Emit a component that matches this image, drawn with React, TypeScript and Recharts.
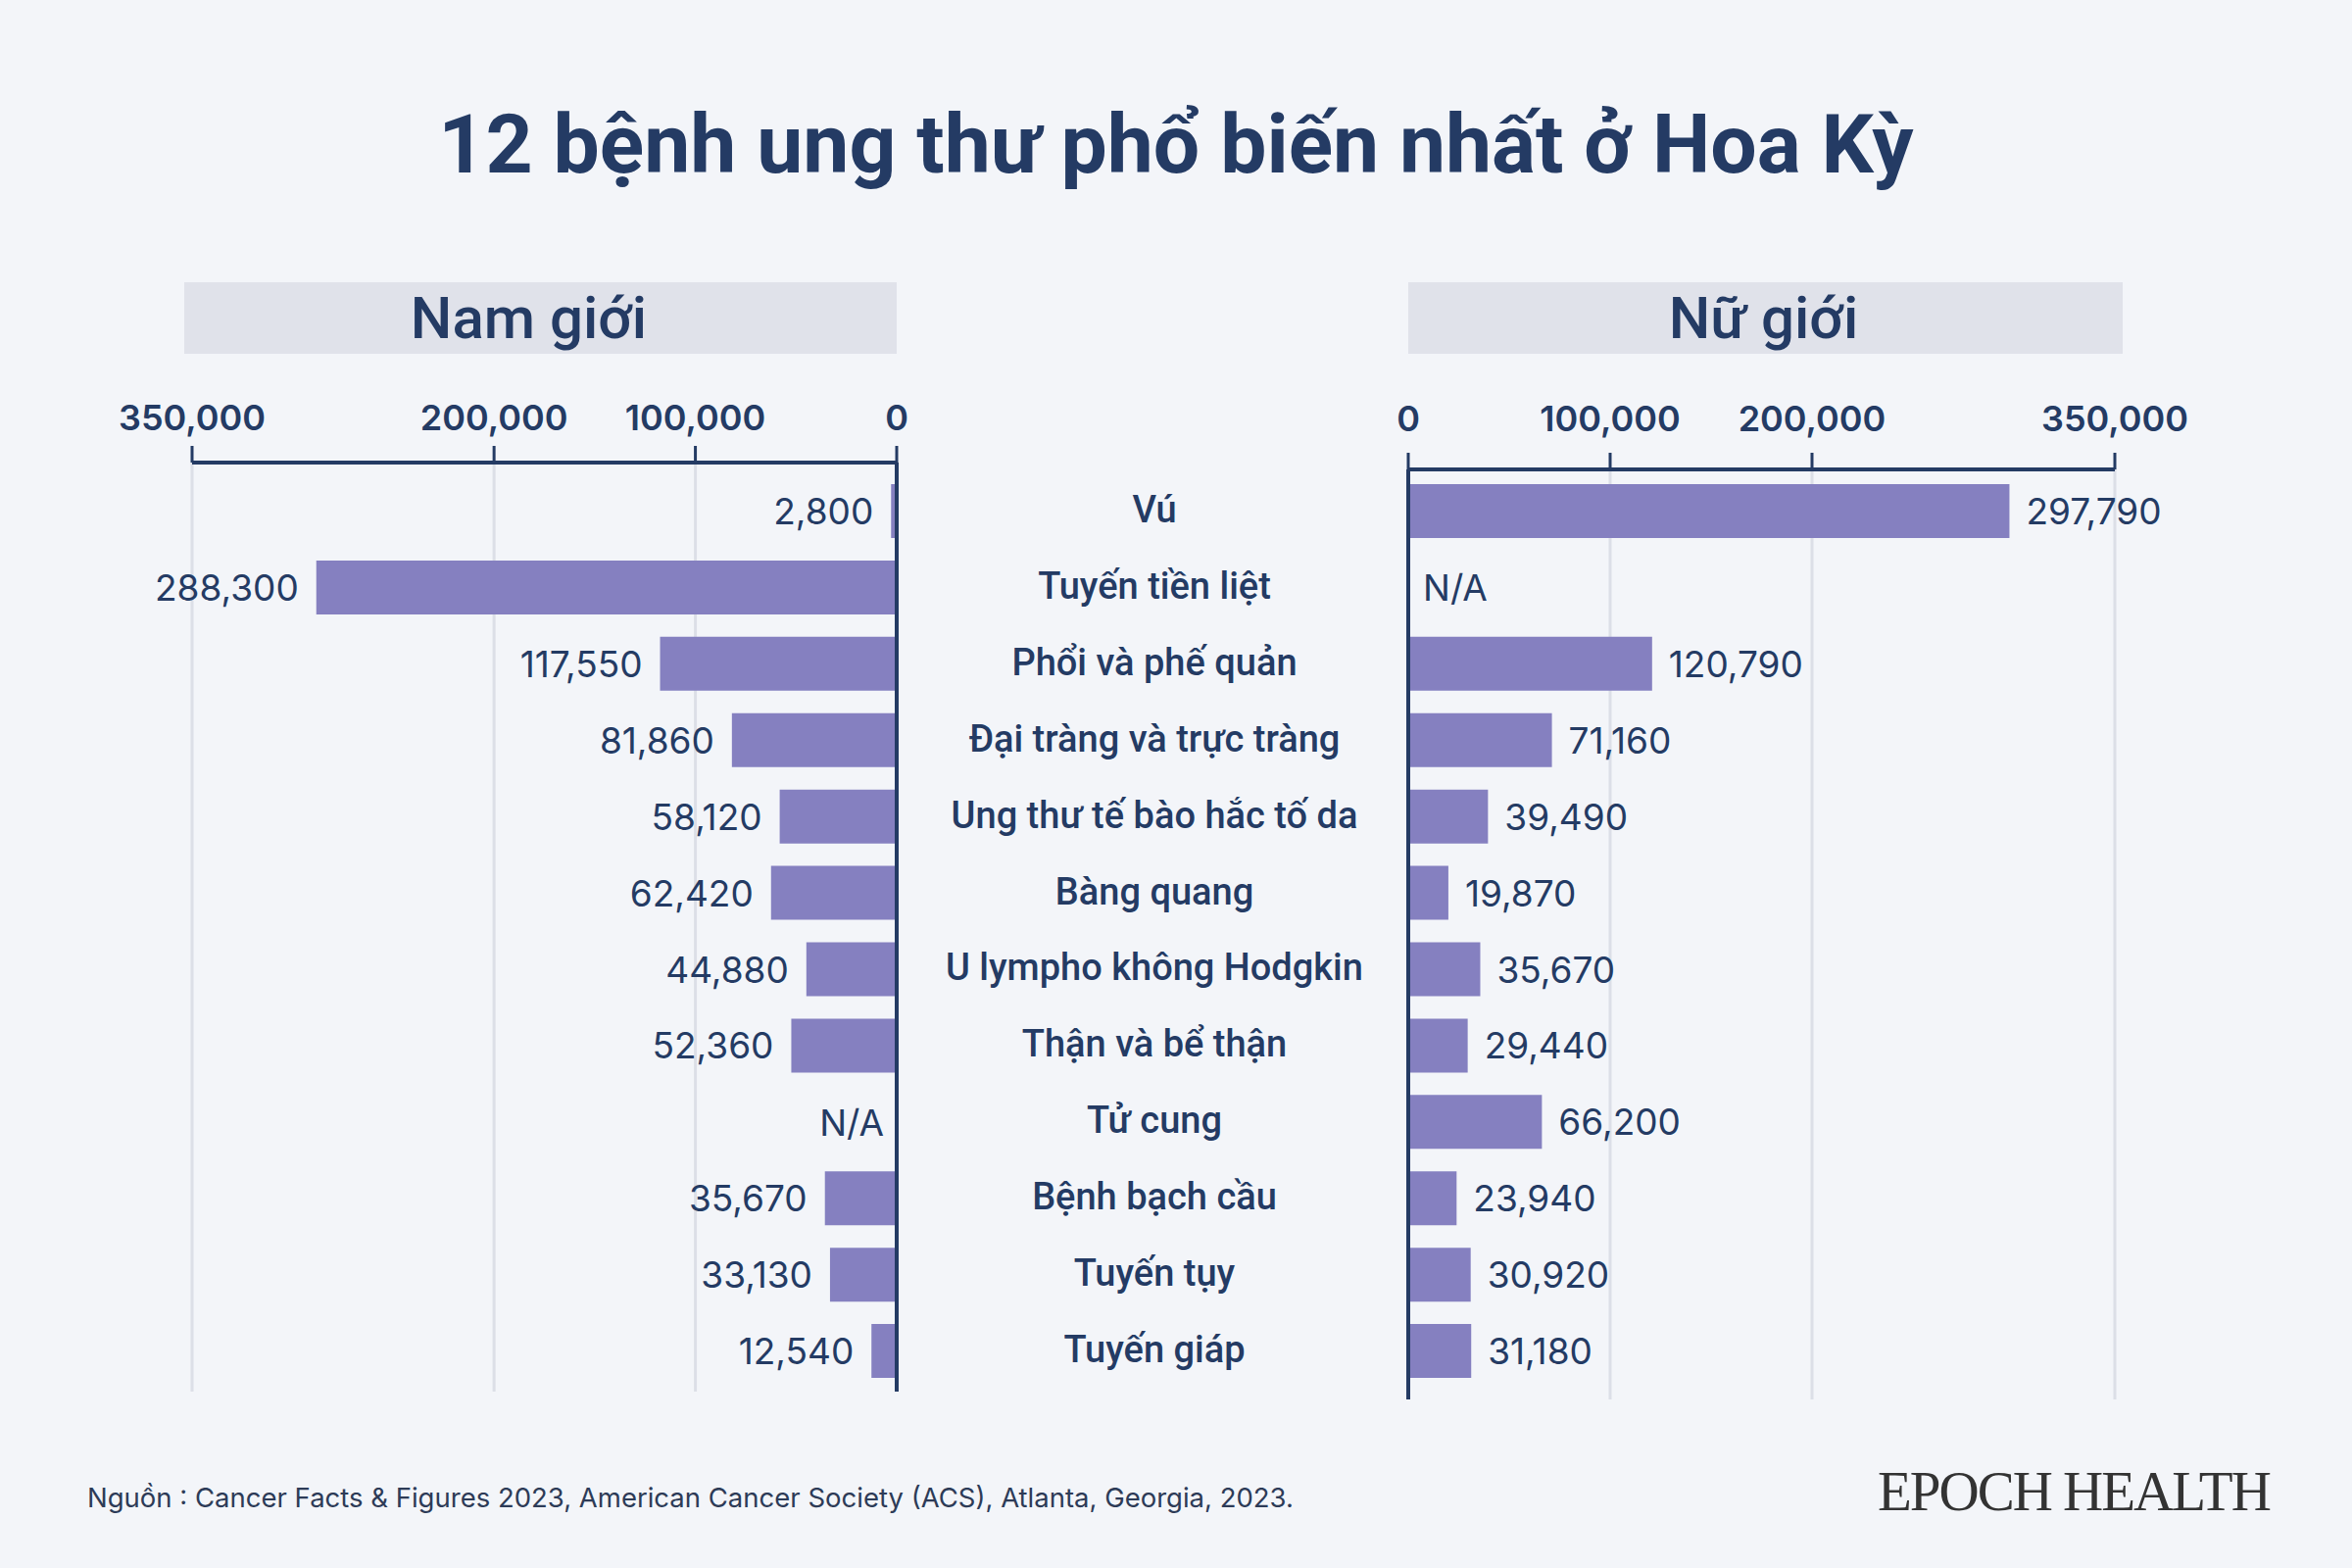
import React from "react";
import { BarChart, Bar, XAxis, YAxis, CartesianGrid, ReferenceLine, LabelList } from "recharts";

const categories = [
  "Vú",
  "Tuyến tiền liệt",
  "Phổi và phế quản",
  "Đại tràng và trực tràng",
  "Ung thư tế bào hắc tố da",
  "Bàng quang",
  "U lympho không Hodgkin",
  "Thận và bể thận",
  "Tử cung",
  "Bệnh bạch cầu",
  "Tuyến tụy",
  "Tuyến giáp",
];
const maleCases = [2800, 288300, 117550, 81860, 58120, 62420, 44880, 52360, null, 35670, 33130, 12540];
const femaleCases = [297790, null, 120790, 71160, 39490, 19870, 35670, 29440, 66200, 23940, 30920, 31180];
const axisTicks = [0, 100000, 200000, 350000];

const maleData = categories.map((name, i) => ({ name, value: maleCases[i] }));
const femaleData = categories.map((name, i) => ({ name, value: femaleCases[i] }));

const NAVY = "#243b64";
const BAR = "#8580c0";
const GRID = "#dcdfe7";
const BG = "#f3f5f9";

const fmt = (v: number | null) => (v == null ? "N/A" : v.toLocaleString("en-US"));

const tickStyle = { fontFamily: "Inter", fontWeight: 600, fontSize: 36, fill: NAVY };
const valueFont = { fontFamily: "Inter", fontWeight: 400, fontSize: 37, fill: NAVY };

// labels are looked up by category name, since bars with no value are skipped
function LeftLabel(p: any) {
  const { x, y, width, height, value } = p;
  const v = maleCases[categories.indexOf(value)];
  const left = Math.min(x, x + width);
  return (
    <text x={left - 18} y={y + height / 2} textAnchor="end" dominantBaseline="central" {...valueFont}>
      {fmt(v)}
    </text>
  );
}

function RightLabel(p: any) {
  const { x, y, width, height, value } = p;
  const v = femaleCases[categories.indexOf(value)];
  const right = Math.max(x, x + width);
  return (
    <text x={right + 17} y={y + height / 2} textAnchor="start" dominantBaseline="central" {...valueFont}>
      {fmt(v)}
    </text>
  );
}

// x here is the male zero line; the category name sits in the gap between both charts
function CategoryTick(p: any) {
  const { x, y, payload } = p;
  const i = categories.indexOf(payload.value);
  return (
    <g>
      <text
        x={x + 263}
        y={y - 2}
        textAnchor="middle"
        dominantBaseline="central"
        fontFamily="Roboto"
        fontWeight={500}
        fontSize={38}
        fill={NAVY}
      >
        {payload.value}
      </text>
      {maleCases[i] == null && (
        <text x={x - 13} y={y} textAnchor="end" dominantBaseline="central" {...valueFont}>
          N/A
        </text>
      )}
      {femaleCases[i] == null && (
        <text x={x + 537} y={y} textAnchor="start" dominantBaseline="central" {...valueFont}>
          N/A
        </text>
      )}
    </g>
  );
}

const full = { position: "absolute" as const, left: 0, top: 0 };

const headerBox = {
  position: "absolute" as const,
  top: 288,
  height: 73,
  background: "#e0e2ea",
  textAlign: "center" as const,
  fontFamily: "Roboto",
  fontWeight: 500,
  fontSize: 60,
  lineHeight: "73px",
  color: NAVY,
};

export default function App() {
  return (
    <div style={{ ...full, width: 2400, height: 1600, background: BG, overflow: "hidden" }}>
      <div
        style={{
          position: "absolute",
          top: 98,
          left: 0,
          width: 2400,
          textAlign: "center",
          fontFamily: "Roboto",
          fontWeight: 700,
          fontSize: 84,
          color: NAVY,
          lineHeight: "100px",
        }}
      >
        12 bệnh ung thư phổ biến nhất ở Hoa Kỳ
      </div>

      <div style={{ ...headerBox, left: 188, width: 727, boxSizing: "border-box", paddingRight: 24 }}>Nam giới</div>
      <div style={{ ...headerBox, left: 1437, width: 729, boxSizing: "border-box", paddingRight: 4 }}>Nữ giới</div>

      <div style={full}>
        <BarChart
          width={2400}
          height={1600}
          data={maleData}
          layout="vertical"
          margin={{ top: 412, left: 196, right: 963, bottom: 180 }}
          barCategoryGap={0}
        >
          <CartesianGrid horizontal={false} stroke={GRID} strokeWidth={3} />
          <XAxis
            type="number"
            orientation="top"
            domain={[0, 350000]}
            ticks={axisTicks}
            reversed
            height={60}
            tickFormatter={(v) => v.toLocaleString("en-US")}
            tick={tickStyle}
            axisLine={{ stroke: NAVY, strokeWidth: 4 }}
            tickLine={{ stroke: NAVY, strokeWidth: 3 }}
            tickSize={17}
            tickMargin={16}
            interval={0}
          />
          <YAxis
            type="category"
            dataKey="name"
            orientation="right"
            width={522}
            axisLine={false}
            tickLine={false}
            tickSize={0}
            tickMargin={0}
            tick={<CategoryTick />}
            interval={0}
            padding={{ top: 11, bottom: 2 }}
          />
          <Bar dataKey="value" fill={BAR} barSize={55} isAnimationActive={false}>
            <LabelList dataKey="name" content={<LeftLabel />} />
          </Bar>
          <ReferenceLine x={0} stroke={NAVY} strokeWidth={4} />
        </BarChart>
      </div>

      <div style={full}>
        <BarChart
          width={2400}
          height={1600}
          data={femaleData}
          layout="vertical"
          margin={{ top: 419, left: 1437, right: 242, bottom: 172 }}
          barCategoryGap={0}
        >
          <CartesianGrid horizontal={false} stroke={GRID} strokeWidth={3} />
          <XAxis
            type="number"
            orientation="top"
            domain={[0, 350000]}
            ticks={axisTicks}
            height={60}
            tickFormatter={(v) => v.toLocaleString("en-US")}
            tick={tickStyle}
            axisLine={{ stroke: NAVY, strokeWidth: 4 }}
            tickLine={{ stroke: NAVY, strokeWidth: 3 }}
            tickSize={17}
            tickMargin={22}
            interval={0}
          />
          <YAxis type="category" dataKey="name" hide width={0} padding={{ top: 4, bottom: 10 }} />
          <Bar dataKey="value" fill={BAR} barSize={55} isAnimationActive={false}>
            <LabelList dataKey="name" content={<RightLabel />} />
          </Bar>
          <ReferenceLine x={0} stroke={NAVY} strokeWidth={4} />
        </BarChart>
      </div>

      <div
        style={{
          position: "absolute",
          left: 89,
          top: 1510,
          fontFamily: "Inter",
          fontSize: 27.5,
          color: "#2d3b57",
          lineHeight: "36px",
          whiteSpace: "nowrap",
        }}
      >
        Nguồn : Cancer Facts &amp; Figures 2023, American Cancer Society (ACS), Atlanta, Georgia, 2023.
      </div>
      <div
        style={{
          position: "absolute",
          left: 1916,
          top: 1490,
          fontFamily: "Liberation Serif",
          fontSize: 57,
          color: "#333333",
          lineHeight: "64px",
          letterSpacing: -2,
          whiteSpace: "nowrap",
        }}
      >
        EPOCH HEALTH
      </div>
    </div>
  );
}
